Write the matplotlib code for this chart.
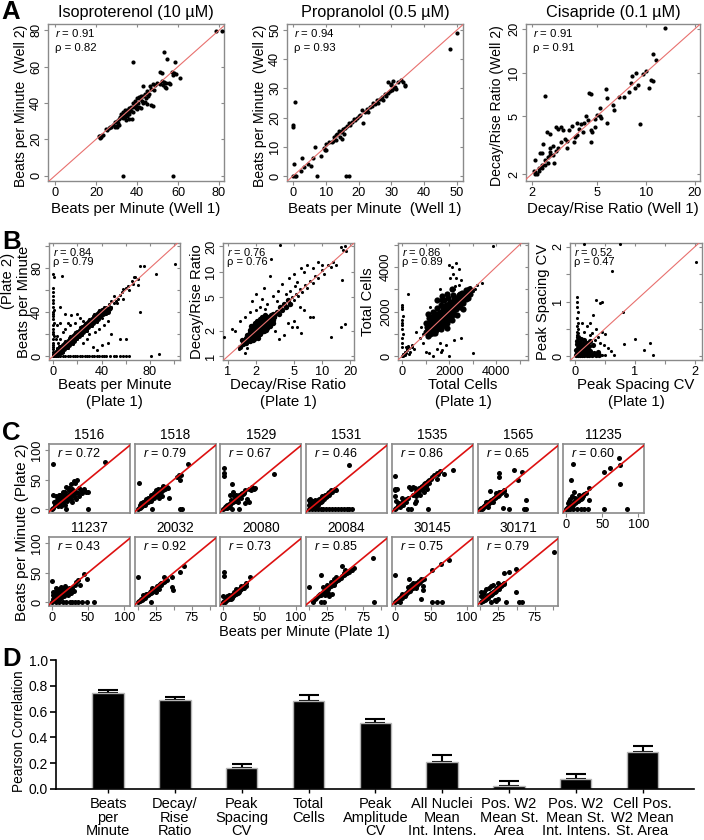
import matplotlib
matplotlib.use('Agg')
import matplotlib.pyplot as plt
from matplotlib import font_manager as fm
from matplotlib.ticker import NullLocator
import numpy as np

# ---------------- DATA ----------------
# Panel A
a_titles = ["Isoproterenol (10 \u00b5M)", "Propranolol (0.5 \u00b5M)", "Cisapride (0.1 \u00b5M)"]
a_r = ["0.91", "0.94", "0.91"]
a_rho = ["0.82", "0.93", "0.91"]
a1_pts = [(78.5,79.5),(81.5,79.5),(38,62.5),(53,68),(54.5,64),(58.4,62.5),(61,54),(33.2,0),(57.7,0),
          (51,57),(52,56.5),(57,57),(58,56.5),(59,56),(57.5,55.5),(52,52),(53,51.5),(54,51),(55.5,51),(56,50.5),
          (53.5,49),(54,48.5),(52.5,50),(50,51),(51,50.5),(49,50),(48,50.5),(46.5,49.5),(47,47.5),(48.5,47),
          (46,45),(45,46.5),(44,45),(43,44),(43,49.5),(42,44),(45.5,44),(44.5,43),(41,43.5),(40,43),(41.5,42),
          (42.5,41),(40.5,40),(43,40),(44,40.5),(45,39.5),(46.7,38.8),(47.8,38.3),(39,41),(38,40),(39.5,39),
          (37,38),(38,37.5),(36,37),(35,36),(36.5,36.5),(34,36),(37,35.5),(35.5,35),(33,35),(36,34),(34.5,34),
          (33,33),(32,34),(35,33),(34,32),(32,32),(33,31.5),(36,31),(37.5,31),(34.5,30.5),(31,31),(30,30),
          (30.5,29),(29,29.5),(31,28),(29.5,27.5),(30,27),(28.5,28),(27,27),(26.5,26),(24.7,25.9),(25.5,25),
          (23,22.5),(22,22),(21.5,22),(22.5,21),(22,20.5),(21.8,21.5),(23.5,22.5),(27.5,26.5),(29,26.5),
          (38,35),(39.5,37),(41,38),(31.5,32.5),(40,36.5),(42,37)]
a2_pts = [(0,17.3),(0,16.7),(0.7,25.3),(0.2,4),(0,0),(0.5,0),(1,0),(2.5,1.8),(2.8,6),(3.3,3),(4.6,4),(5.4,3.4),
          (6.1,6),(6.8,10.1),(7.4,0),(8.7,6.9),(9.5,9.5),(9.8,8.8),(10,9),(10.2,11),(11,11.5),(11.8,11.8),
          (12.2,12),(12.5,13.2),(13,14),(13.5,14.5),(14,15.5),(14.2,13.5),(14.5,15),(15,15.5),(15.3,16),
          (14.8,12.8),(13.2,12.3),(16,16.5),(16.5,17),(17,18),(17.3,17.5),(18,18.5),(18.5,19.5),(19,19),
          (19.5,20),(20,20.5),(20.5,21),(16.2,0),(17,0),(21,22.5),(22,22),(22.5,23),(23,22),(23.5,23.5),
          (21.3,18.3),(24,24),(24.5,25),(25,24.5),(25.5,26),(26,25),(26.5,26.5),(27,27),(27.5,26),(28,28),
          (28.5,27.5),(29,28.5),(29.5,29),(30,31),(30.3,29.5),(30.8,30),(31,30.5),(31.5,29.8),(30.5,32.5),
          (32,32),(33,33),(33.5,32),(34,31),(34,30.7),(29,32.3),(29.8,31.5),(15.7,14.3),(47.9,43.4),(50,49)]
a3_pts = [(13.1,20.3),(11.1,13.5),(11.5,12.2),(10,10.2),(9.6,9.8),(8.7,10),(8.2,9.4),(8.1,8.5),(8.6,7.8),
          (9.0,8.2),(10.8,8.9),(11.0,8.8),(10.5,7.8),(9.2,4.4),(7.9,7.4),(7.3,6.8),(6.8,6.8),(5.7,7.7),
          (5.8,6.7),(6.3,6.0),(6.4,5.5),(5.8,4.5),(5.2,5.7),(5.2,5.0),(5.0,5.1),(5.3,4.9),(4.9,4.8),(4.5,7.2),
          (4.6,7.1),(4.7,3.9),(4.6,4.0),(4.9,4.2),(4.6,3.3),(4.3,5.0),(4.2,4.5),(4.0,4.4),(4.1,3.9),(3.8,3.7),
          (3.9,4.1),(3.7,3.6),(3.5,4.3),(3.4,4.0),(3.3,3.4),(3.2,3.5),(3.0,3.3),(3.0,4.2),(2.8,4.2),(2.9,3.0),
          (2.8,2.9),(2.7,3.1),(2.6,3.0),(2.6,2.7),(2.5,2.6),(2.5,2.4),(2.4,2.5),(2.4,2.3),(2.3,2.3),(2.3,2.2),
          (2.2,2.2),(2.2,2.1),(2.1,2.05),(2.1,2.0),(2.05,2.1),(2.15,2.0),(2.4,6.9),(2.47,3.9),(2.6,3.8),
          (2.6,2.85),(2.7,2.7),(2.25,2.8),(2.3,2.8),(2.1,2.5),(2.35,3.2),(2.9,4.1),(3.1,4.0),(3.6,3.3),
          (4.4,4.7),(3.8,4.5),(2.75,2.4),(3.3,3.0)]

# Panel B (dense cores and sparse scatter)
b_r = ["0.84", "0.76", "0.86", "0.52"]
b_rho = ["0.79", "0.76", "0.89", "0.47"]
b_labels = ["Beats per Minute", "Decay/Rise Ratio", "Total Cells", "Peak Spacing CV"]
b1_core = [(1,0.5),(1.5,2),(2,1),(2.5,3),(3,2),(3,4),(4,3),(4.5,5),(5,4),(5,6),(6,5),(6.5,7),(7,6),(7,8),(8,7),
           (8.5,9),(9,8),(9,10),(10,9),(10,11),(11,10),(11.5,12),(12,11),(12,13),(13,12),(13.5,14),(14,13),
           (14,15),(15,14),(15.5,16),(16,15),(16,17),(17,16),(17.5,18),(18,17),(18,19),(19,18),(19.5,20),
           (20,19),(20,21),(21,20),(21.5,22),(22,21),(22,23),(23,22),(23.5,24),(24,23),(24,25),(25,24),
           (25.5,26),(26,25),(26,27),(27,26),(27.5,28),(28,27),(28,29),(29,28),(29.5,30),(30,29),(30,31),
           (31,30),(31.5,32),(32,31),(32,33),(33,32),(33.5,34),(34,33),(34,35),(35,34),(35.5,36),(36,35),
           (36,37),(37,36),(37.5,38),(38,37),(38,39),(39,38),(39.5,40),(40,39),(40,41),(41,40),(41.5,42),
           (42,40),(43,41),(44,42),(45,40),(46,43),(47,44),
           (5,2),(7,4),(9,6),(11,8),(13,10),(15,12),(17,14),(19,16),(21,18),(23,20),(25,22),(27,24),(29,26),
           (31,28),(33,30),(35,32),(37,34),(39,36),(41,38),(43,39),(2,4),(4,6),(6,8),(8,10),(10,12),(12,14),
           (14,16),(16,18),(18,20),(20,22),(22,24),(24,26),(26,28),(28,30),(30,32),(32,34),(34,36),(36,38),
           (38,40),(40,42),(42,43),(44,44)]
b1_scatter = [(3,7),(5,9),(8,4),(10,14),(12,7),(14,18),(16,11),(18,22),(20,15),(22,26),(24,19),(26,30),(28,23),
              (30,34),(32,27),(34,38),(36,31),(38,42),(40,35),(42,45),(44,38),(46,47),(48,45),(50,48),(52,50),
              (54,52),(55,56),(57,58),(58,61),(60,62),(62,64),(63,60),(65,68),(66,66),(68,72),(70,70),(72,82),
              (75,82),(70,65),(72,40),(85,75),(101,84),(67,72),(58,52),(50,55),(48,50),(53,48),(45,32),(42,28),
              (38,25),(35,22),(30,20),(28,15),(25,12),(48,20),(55,15),(60,15),(40,10),(36,5),(33,8),(45,12),
              (20,38),(15,37),(10,38),(6,45),(7,73),(3,28),(6,30),(8,22),(10,25),(12,30),(14,28),(18,30),(22,35),
              (25,32),(2,15),(3,18),(4,12),(6,15),
              (0,75),(0.5,72),(0,62),(0,58),(0,55),(0,51),(0,48),(0,45),(0.5,42),(0,40),(0,38),(0,36),(0,34),
              (0.5,30),(0,28),(0,25),(0,22),(0,20),(0.5,18),(0,15),(0,12),(0,10),(0,8),(0,6),(0,4),(0,2),(0,0),
              (2,0),(4,0),(6,0),(8,0),(10,0),(12,0),(14,0),(16,0),(18,0),(20,0),(22,0),(24,0),(26,0),(28,0),
              (30,0),(32,0),(34,0),(36,0),(38,0),(40,0),(42,0),(44,0),(47,0),(50,0),(52,0),(55,0),(58,0),(60,0),
              (81,0),(88,2),(63,0)]
b2_core = [(1.5,1.5),(1.6,1.5),(1.55,1.65),(1.65,1.6),(1.7,1.75),(1.75,1.6),(1.8,1.8),(1.8,1.95),(1.85,1.7),
           (1.9,1.9),(1.9,2.1),(1.95,1.8),(2.0,2.0),(2.0,2.2),(2.05,1.9),(2.1,2.1),(2.1,2.35),(2.15,1.95),
           (2.2,2.2),(2.2,2.45),(2.25,2.05),(2.3,2.3),(2.3,2.55),(2.35,2.15),(2.4,2.4),(2.4,2.7),(2.45,2.2),
           (2.5,2.5),(2.5,2.8),(2.55,2.3),(2.6,2.6),(2.65,2.4),(2.7,2.75),(2.7,2.95),(2.75,2.5),(2.8,2.8),
           (2.85,3.1),(2.9,2.7),(2.95,3.0),(3.0,3.2),(3.05,2.8),(3.1,3.1),(1.7,2.05),(1.8,2.25),(1.95,2.45),
           (2.05,2.6),(2.2,2.75),(1.9,1.6),(2.0,1.7),(2.2,1.85),(2.4,2.0),(2.6,2.15),(1.6,1.8),(1.45,1.4),
           (1.4,1.55),(1.35,1.3),(2.8,2.3),(3.0,2.5),(2.5,3.1),(2.3,2.9),(1.75,2.3),(2.1,1.65),
           (1.55,1.45),(1.65,1.7),(1.7,1.5),(1.75,1.85),(1.85,2.0),(1.85,1.55),(1.95,2.3),(2.0,1.85),(2.05,2.05),
           (2.1,1.8),(2.15,2.25),(2.15,2.5),(2.25,2.3),(2.25,1.95),(2.3,2.05),(2.35,2.45),(2.35,2.7),(2.45,2.55),
           (2.45,2.35),(2.5,2.15),(2.55,2.65),(2.6,2.9),(2.65,2.55),(2.7,2.25),(2.75,2.85),(2.85,2.6),(2.9,2.95),
           (3.0,2.7),(3.1,2.9),(3.2,3.2),(1.9,2.0),(2.0,2.4),(1.7,1.95),(2.55,2.05),(2.8,2.45),
           (3.3,3.3),(3.5,3.2),(3.6,3.8),(3.8,3.5),(4.0,4.2),(4.2,3.8),(4.4,4.6),(4.6,4.2)]
b2_scatter = [(4.8,5.0),(5.0,4.6),(5.3,5.5),(5.6,5.2),(5.9,6.2),(6.2,5.8),(6.6,6.9),(7.0,6.5),(7.5,7.8),(8.0,7.4),
              (8.5,8.9),(9.2,8.5),(10,10.5),(10.5,9.5),(11.5,12),(12.5,11.5),(13,13),(14,12),(16,19.5),(17,18),
              (17.5,20.5),(18,17.5),(3.6,20.7),(2.85,14.4),(16.3,8),(12.5,1.7),(16,2.2),(17.5,2.4),(7.5,2.9),
              (8.0,2.9),(2.8,9),(2.4,6.5),(2.0,5.5),(1.8,4.5),(2.3,4.8),(2.6,4.2),(3.0,5.2),(3.4,6.0),(3.8,7.2),
              (4.5,8.5),(5.0,9.5),(5.5,7.5),(6.0,11),(6.5,10),(7.0,12),(8.0,11),(9,13),(10,12),(4.4,2.5),(5,2.6),
              (5.5,2.2),(6,1.9),(4,1.8),(3.5,1.6),(4.8,2.2),(3.2,2.0),(6.5,3.5),(5.8,3.8),(0.9,1.7),(1.1,2.1),
              (1.2,2.0),(1.3,1.2),(1.5,1.1),(1.6,1.25),(1.35,2.6),(1.5,2.9),(1.7,3.3),(2.0,3.5),(2.2,3.8),
              (2.5,3.6),(3.3,4.5),(4.1,5.5),(4.6,5.9),(5.2,6.8)]
b3_core = [(1000,1100),(1050,1300),(1100,900),(1100,1200),(1150,1500),(1200,1000),(1200,1350),(1250,1150),
           (1300,1450),(1300,1650),(1350,1250),(1400,1400),(1400,1800),(1450,1150),(1450,1600),(1500,1350),
           (1500,1750),(1550,1500),(1550,1950),(1600,1300),(1600,1650),(1650,1850),(1700,1550),(1700,2000),
           (1750,1400),(1750,1750),(1800,1950),(1800,2200),(1850,1650),(1850,1850),(1900,2050),(1900,1500),
           (1950,1900),(2000,2100),(2000,2350),(2050,1800),(2100,2000),(2100,2250),(2150,2450),(2200,1900),
           (2200,2200),(2250,2400),(2300,2100),(2300,2600),(2350,2300),(2400,2500),(2400,2750),(2450,2200),
           (2500,2450),(2500,2650),(2550,2850),(2600,2400),(2600,2600),(2650,2800),(2700,2550),(2700,2950),
           (2750,2700),(2800,2900),(2800,2600),(2850,3000),(2900,2800),(2950,2950),(1250,1750),(1350,1950),
           (1500,2150),(1650,2300),(1800,2500),(1950,2600),(2150,2750),(1400,1050),(1650,1200),(1900,1250),
           (2100,1600),(2350,1850),(2600,2100),(1150,1700),(1300,2000),(1500,2500),(1700,2700),
           (1700,2500),(1900,2800),(2100,3000),(1000,1500),(1100,1900),
           (1100,1050),(1150,1250),(1200,1500),(1250,1350),(1300,1200),(1350,1550),(1400,1650),(1450,1400),
           (1450,1850),(1500,1550),(1550,1700),(1550,1250),(1600,1850),(1600,1500),(1650,1650),(1650,2000),
           (1700,1800),(1700,1350),(1750,1950),(1750,2150),(1800,1700),(1800,1500),(1850,2050),(1850,2300),
           (1900,1850),(1900,2200),(1950,2100),(1950,1650),(2000,1950),(2000,2250),(2050,2150),(2050,2450),
           (2100,1850),(2150,2100),(2150,2300),(2200,2350),(2200,2550),(2250,2200),(2300,2350),(2300,2450),
           (2350,2550),(2400,2350),(2450,2600),(2450,2800),(2500,2550),(2550,2650),(2600,2750),(2650,2600),
           (2700,2800),(2750,2900),(2800,2750),(2850,2850),(1300,1050),(1250,1550),(2050,1650)]
b3_scatter = [(1600,3000),(2250,3150),(2400,3200),
              (3850,4950),(2300,4200),(2000,4100),(2100,4000),(2150,3700),(2050,3500),(2300,3500),(2400,3900),
              (2500,3400),(3400,3300),(250,2800),(3000,150),(1500,300),(1300,0),(1150,150),(2000,0),(1650,200),
              (1700,250),(1850,500),(2200,700),(2500,800),(1000,200),(900,600),(750,800),(600,1100),(500,300),
              (400,500),(350,200),(300,100),(200,300),(150,150),(100,50),(50,100),(250,450),(200,250),(300,350),
              (400,400),(150,400),(0,0),(50,0),(100,200),(0,2300),(0,2200),(0,2100),(50,1800),(0,1600),(0,1500),
              (0,1400),(0,1200),(50,1000),(0,800),(0,600),(0,400),(1600,600),(2900,3100),(3000,2900),(3100,3000),
              (3200,3200),(2200,3000),(1200,2200),(800,1300),(900,1000)]
b4_core = [(0.02,0.02),(0.04,0.05),(0.06,0.03),(0.08,0.08),(0.1,0.05),(0.12,0.1),(0.14,0.04),(0.16,0.12),
           (0.18,0.07),(0.2,0.15),(0.22,0.06),(0.24,0.18),(0.26,0.1),(0.28,0.03),(0.3,0.2),(0.05,0.15),
           (0.07,0.2),(0.09,0.25),(0.11,0.18),(0.13,0.22),(0.15,0.3),(0.03,0.28),(0.05,0.35),(0.1,0.32),
           (0.2,0.25),(0.25,0.28),(0.02,0.12),(0.04,0.22),(0.06,0.1),(0.08,0.16),(0.1,0.12),(0.12,0.02),
           (0.14,0.14),(0.16,0.02),(0.18,0.2),(0.2,0.02),(0.22,0.12),(0.24,0.02),(0.32,0.05),(0.35,0.02),
           (0.38,0.08),(0.4,0.02),(0.03,0.06),(0.07,0.04),(0.09,0.02),(0.13,0.07),(0.17,0.16),(0.19,0.1)]
b4_scatter = [(0.45,0.03),(0.5,0.02),
              (0.04,1.08),(0.03,1.0),(0.04,0.9),(0.05,0.8),(0.03,0.7),(0.05,0.6),(0.04,0.55),(0.06,0.5),
              (0.04,0.45),(0.06,0.42),(0.04,0.38),
              (0.35,1.03),(0.42,0.97),(0.45,1.0),(0.62,1.56),(0.8,0.8),(0.15,2.06),(0.75,2.06),(2.02,1.73),
              (1.0,0.32),(1.3,0.02),(1.15,0.12),(1.25,0.25),(0.82,0.22),(0.66,0.02),(0.3,0.75),(0.25,0.6),
              (0.35,0.5),(0.45,0.45),(0.5,0.4),(0.38,0.35),(0.28,0.42),(0.2,0.55),(0.12,0.6),(0.55,0.15),
              (0.6,0.1),(0.42,0.25),(0.48,0.2),(0.33,0.3),(0.26,0.38),(0.15,0.45)]

# Panel C
c_names = ["1516", "1518", "1529", "1531", "1535", "1565", "11235",
           "11237", "20032", "20080", "20084", "30145", "30171"]
c_r = ["0.72", "0.79", "0.67", "0.46", "0.86", "0.65", "0.60",
       "0.43", "0.92", "0.73", "0.85", "0.75", "0.79"]
c_1516 = [(1,76),(74,80),(50,29),(50,0),(0,0),(2,3),(3,12),(4,8),(5,15),(6,22),(2,24),(8,5),(8,18),(10,10),
          (10,24),(12,13),(12,20),(13,5),(14,16),(15,25),(16,12),(17,20),(18,30),(18,8),(19,18),(20,22),(20,38),
          (21,15),(22,25),(23,32),(24,20),(25,28),(26,18),(27,24),(28,35),(28,12),(29,30),(30,22),(30,48),(31,26),
          (32,45),(33,18),(34,30),(35,50),(36,28),(37,36),(38,22),(40,33),(42,28),(44,35),(47,30),(24,36),(26,42),
          (20,0),(15,30),(11,24)]
c_1518 = [(2,45),(0,0),(2,2),(4,3),(5,10),(6,5),(8,7),(9,9),(10,8),(11,12),(12,10),(13,14),(14,12),(15,16),
          (16,14),(17,18),(18,15),(19,20),(20,18),(21,22),(22,20),(23,25),(24,22),(25,27),(26,24),(27,28),(28,26),
          (29,30),(30,28),(31,33),(32,30),(33,35),(35,32),(36,37),(38,35),(40,38),(42,36),(30,20),(34,22),(44,20),
          (20,0),(58,0),(62,0),(55,55),(57,58),(60,58),(58,50),(70,76),(18,25),(12,18),(25,32),(28,35),(22,28),
          (15,20),(10,15),(8,12),(35,40),(5,4),(3,8)]
c_1529 = [(1,70),(1,62),(1,57),(12,42),(14,30),(9,25),(70,59),(0,0),(2,2),(3,4),(4,5),(5,3),(6,7),(7,6),(8,9),
          (9,8),(10,11),(11,10),(12,13),(13,12),(14,15),(15,14),(16,17),(17,15),(18,19),(19,18),(20,21),(21,20),
          (22,24),(23,22),(24,26),(25,24),(26,28),(27,26),(28,30),(29,28),(30,33),(25,20),(18,25),(20,12),(35,35),
          (38,33),(40,38),(42,35),(44,36),(36,12),(30,10),(12,0),(22,0),(33,18),(15,22),(10,16),(5,8),(8,4)]
c_1531 = [(55,75),(0,0),(1,3),(0,8),(1,12),(0,16),(2,18),(3,6),(4,10),(5,14),(5,4),(6,8),(7,12),(8,6),(8,16),
          (9,10),(10,14),(10,4),(11,12),(12,8),(12,16),(13,14),(14,10),(14,18),(15,15),(16,12),(16,20),(17,18),
          (18,15),(18,22),(19,19),(20,20),(21,17),(22,24),(23,21),(24,25),(25,22),(26,27),(27,25),(28,30),(29,27),
          (30,32),(32,29),(34,33),(36,35),(38,32),(4,0),(8,0),(12,0),(16,0),(20,0),(24,0),(28,0),(32,0),(36,0),
          (40,0),(44,0),(48,0),(52,0),(56,0),(60,0)]
c_1535 = [(1,57),(0,35),(1,33),(3,34),(0,22),(2,15),(4,8),(6,10),(0,0),(2,3),(8,4),(10,20),(12,15),(15,12),
          (18,20),(19,0),(22,0),(46,0),(28,10),(30,15),(25,25),(20,38),(25,38),(22,35),(28,36),(30,30),(32,28),
          (33,33),(34,36),(35,32),(36,38),(37,34),(38,40),(39,36),(40,42),(41,38),(42,44),(43,40),(44,46),(45,42),
          (46,48),(47,45),(48,50),(50,52),(52,55),(55,58),(58,62),(60,60),(58,52),(62,65),(68,60),(45,35),(40,30),
          (35,25),(30,22),(15,18),(12,8),(80,66)]
c_1565 = [(0,0),(1,2),(2,1),(3,4),(4,3),(5,6),(6,5),(7,8),(8,7),(9,10),(10,9),(11,12),(12,11),(13,14),(14,13),
          (15,16),(16,15),(17,18),(18,17),(19,20),(20,19),(21,22),(22,21),(23,24),(24,23),(25,26),(26,25),(27,28),
          (28,27),(29,30),(30,29),(32,31),(33,33),(26,61),(26,54),(47,66),(58,63),(52,50),(63,16),(60,0),(63,0),
          (31,2),(40,0),(13,31),(26,30),(10,4),(18,12),(22,27),(8,13),(35,25)]
c_11235 = [(9,77),(7,50),(11,29),(32,36),(52,63),(61,69),(73,86),(75,75),(74,43),(53,1),(84,0),(30,0),(31,16),
           (0,0),(1,2),(2,1),(3,4),(4,2),(5,6),(6,4),(7,8),(8,6),(9,10),(10,8),(11,12),(12,10),(13,14),(14,12),
           (15,16),(16,14),(17,18),(18,16),(19,20),(20,18),(21,22),(22,20),(23,24),(24,22),(25,26),(27,27),(2,10),
           (4,14),(6,18),(5,0),(10,0),(15,0),(20,0),(25,0),(8,22),(12,20),(18,25)]
c_11237 = [(0,36),(0,0),(1,5),(1,12),(2,18),(3,8),(4,15),(5,3),(6,20),(7,10),(8,16),(9,5),(10,22),(11,12),(12,18),
           (13,8),(14,20),(15,14),(16,24),(17,10),(18,18),(19,22),(20,15),(21,20),(22,12),(23,25),(24,18),(25,22),
           (26,16),(28,24),(30,20),(32,30),(34,35),(36,37),(39,29),(44,47),(49,40),(5,0),(10,0),(15,0),(20,0),
           (25,0),(28,0),(32,0),(36,0),(42,0),(48,0),(58,0),(12,26),(18,28),(6,24)]
c_20032 = [(0,42),(0,0),(2,2),(4,3),(5,5),(6,4),(7,7),(8,6),(9,9),(10,8),(11,11),(12,10),(13,13),(14,12),(15,15),
           (16,14),(17,17),(18,16),(19,19),(20,18),(21,21),(22,20),(23,23),(24,22),(25,25),(26,24),(27,27),(28,26),
           (29,29),(30,28),(31,31),(32,30),(33,33),(34,32),(36,35),(38,36),(40,38),(36,42),(48,43),(58,51),(64,61),
           (47,26),(49,21),(18,0),(12,14),(20,24),(25,18),(8,12),(30,22)]
c_20080 = [(1.5,51),(1.5,44),(37,42),(0,10),(0,0),(1,2),(2,1),(3,3),(4,5),(5,4),(6,6),(7,7),(8,6),(9,9),(10,10),
           (11,9),(12,12),(13,11),(14,14),(15,13),(16,16),(17,15),(18,18),(19,17),(20,20),(21,19),(22,22),(23,21),
           (24,24),(25,23),(26,26),(27,25),(28,28),(29,27),(30,30),(31,28),(32,32),(8,12),(12,8),(15,18),(20,16),
           (24,28),(28,24),(5,10),(10,5),(18,22),(22,18)]
c_20084 = [(0.6,26),(17,46),(38,42),(45,62),(50,55),(48,50),(88,75),(90,1),(17,0),(21,0),(28,10),(32,14),(5,0),
           (6,3),(8,5),(10,8),(12,10),(14,12),(15,14),(16,13),(18,16),(20,18),(22,20),(24,22),(25,24),(26,23),
           (28,26),(30,28),(32,30),(34,31),(36,34),(38,36),(40,38),(42,40),(44,41),(46,44),(48,46),(50,48),(52,50),
           (55,52),(58,55),(60,54),(62,58),(20,26),(25,30),(30,34),(35,40),(22,12),(26,16),(35,30)]
c_30145 = [(0.6,46),(75.6,72),(64,65),(51,54),(41,39),(39,27),(39,21),(36,5),(52,0),(59,0),(66,0),(20,39),(7.6,1),
           (12,13),(0,0),(2,2),(3,4),(5,3),(6,7),(8,6),(9,10),(10,8),(12,12),(14,11),(15,16),(16,14),(18,19),
           (19,17),(20,22),(21,20),(22,24),(23,22),(24,26),(25,25),(26,28),(27,26),(28,30),(29,28),(30,32),(31,30),
           (32,34),(33,33),(34,36),(35,35),(36,40),(38,38),(25,32),(22,30),(18,26),(30,25),(10,15)]
c_30171 = [(102,85),(33,50),(40,51),(49,56),(49,18),(24,32),(26,23),(36,0),(54,0),(58,0),(0.6,18),(0.6,10),(1,0),
           (2,3),(4,2),(5,6),(6,4),(7,8),(8,6),(9,10),(10,8),(11,12),(12,10),(13,14),(14,12),(15,16),(16,14),
           (17,18),(18,16),(19,20),(20,18),(21,22),(22,20),(23,24),(24,22),(25,26),(26,25),(27,28),(28,27),(29,30),
           (30,29),(31,31),(32,32),(33,31),(3,14),(5,18),(8,22),(12,25),(15,28),(18,30),(20,4),(22,2),(25,6),(15,0)]
c_data = [c_1516, c_1518, c_1529, c_1531, c_1535, c_1565, c_11235,
          c_11237, c_20032, c_20080, c_20084, c_30145, c_30171]

# Panel D
d_categories = ["Beats\nper\nMinute", "Decay/\nRise\nRatio", "Peak\nSpacing\nCV", "Total\nCells",
                "Peak\nAmplitude\nCV", "All Nuclei\nMean\nInt. Intens.", "Pos. W2\nMean St.\nArea",
                "Pos. W2\nMean St.\nInt. Intens.", "Cell Pos.\nW2 Mean\nSt. Area"]
d_values = [0.741, 0.689, 0.160, 0.681, 0.508, 0.212, 0.021, 0.075, 0.288]
d_errors = [0.023, 0.026, 0.035, 0.044, 0.033, 0.050, 0.039, 0.042, 0.049]

# ---------------- STYLE / LAYOUT ----------------
W, H = 704, 840
REG = ['Liberation Sans', 'DejaVu Sans']
_names = {f.name for f in fm.fontManager.ttflist}
HAS_NARROW = 'Liberation Sans Narrow' in _names
NAR = (['Liberation Sans Narrow'] + REG) if HAS_NARROW else REG
NSCALE = (1 / 0.82) if HAS_NARROW else 1.0
plt.rcParams['font.family'] = REG
plt.rcParams['mathtext.fontset'] = 'custom'
plt.rcParams['mathtext.it'] = NAR[0] + ':italic'
plt.rcParams['mathtext.rm'] = NAR[0]

fig = plt.figure(figsize=(W / 100, H / 100), dpi=100)


def box(x0, y0, x1, y1):
    return [x0 / W, 1 - y1 / H, (x1 - x0) / W, (y1 - y0) / H]


def ftext(x, y, s, size, rot=0, **kw):
    fig.text(x / W, 1 - y / H, s, fontsize=size * NSCALE, rotation=rot, family=NAR,
             ha=kw.pop('ha', 'center'), va=kw.pop('va', 'center'), **kw)


def atext(ax, x, y, s, size):
    ax.text(x, y, s, transform=ax.transAxes, fontsize=size * NSCALE, family=NAR, va='center', ha='left')


GRAY = '#8a8a8a'
RED_LIGHT = '#e8706e'


def rstyle(ax, xt, xl, yt, yl, log=False, size=9):
    if log:
        ax.set_xscale('log')
        ax.set_yscale('log')
    ax.set_xticks(xt, xl)
    ax.set_yticks(yt, yl)
    ax.xaxis.set_minor_locator(NullLocator())
    ax.yaxis.set_minor_locator(NullLocator())
    for s in ax.spines.values():
        s.set_color(GRAY)
        s.set_linewidth(1.0)
    ax.tick_params(which='both', colors=GRAY, labelcolor='black', length=3.0, width=0.8,
                   labelsize=size, pad=1.2, direction='out')
    plt.setp(ax.get_yticklabels(), rotation=90, va='center')
    ax2 = ax.secondary_xaxis('top')
    ax2.set_xticks(xt, [''] * len(xt))
    ax2.tick_params(direction='in', length=2.5, colors=GRAY, width=0.8)
    ax2.xaxis.set_minor_locator(NullLocator())
    ax2.spines['top'].set_visible(False)
    ay2 = ax.secondary_yaxis('right')
    ay2.set_yticks(yt, [''] * len(yt))
    ay2.tick_params(direction='in', length=2.5, colors=GRAY, width=0.8)
    ay2.yaxis.set_minor_locator(NullLocator())
    ay2.spines['right'].set_visible(False)


def scat(ax, pts, s, color='black'):
    xs = [p[0] for p in pts]
    ys = [p[1] for p in pts]
    ax.scatter(xs, ys, s=s, color=color, linewidths=0, zorder=3, clip_on=True)


# ---------------- PANEL A ----------------
a_boxes = [(48, 24, 224, 181), (287, 24, 463, 181), (526, 24, 700, 181)]
a_lims = [((-3.5, 82.5), (-3, 83.5)), ((-1.8, 51.8), (-1.7, 52)), ((1.84, 21.5), (1.79, 21.6))]
a_pts = [a1_pts, a2_pts, a3_pts]
a_xlab = ["Beats per Minute (Well 1)", "Beats per Minute  (Well 1)", "Decay/Rise Ratio (Well 1)"]
a_ylab = ["Beats per Minute  (Well 2)", "Beats per Minute  (Well 2)", "Decay/Rise Ratio (Well 2)"]
a_ylab_x = [21, 260, 497]
a_ticks = [([0, 20, 40, 60, 80], ['0', '20', '40', '60', '80']),
           ([0, 10, 20, 30, 40, 50], ['0', '10', '20', '30', '40', '50']),
           ([2, 5, 10, 20], ['2', '5', '10', '20'])]
for i in range(3):
    ax = fig.add_axes(box(*a_boxes[i]))
    rstyle(ax, a_ticks[i][0], a_ticks[i][1], a_ticks[i][0], a_ticks[i][1], log=(i == 2), size=9.2)
    ax.set_xlim(*a_lims[i][0])
    ax.set_ylim(*a_lims[i][1])
    scat(ax, a_pts[i], 9)
    ax.axline((2, 2), (10, 10), color=RED_LIGHT, lw=0.8, zorder=4)
    atext(ax, 0.04, 0.94, r'$r$ = ' + a_r[i], 8.2)
    atext(ax, 0.04, 0.845, '\u03c1 = ' + a_rho[i], 8.2)
    x0, y0, x1, y1 = a_boxes[i]
    ftext((x0 + x1) / 2, 13, a_titles[i], 11.7)
    ftext((x0 + x1) / 2, 209, a_xlab[i], 10.8)
    ftext(a_ylab_x[i], (y0 + y1) / 2 + 3, a_ylab[i], 10.1, rot=90)

# ---------------- PANEL B ----------------
b_boxes = [(49, 243, 180, 360), (223, 243, 354, 360), (398, 243, 528, 360), (570, 243, 702, 360)]
b_lims = [((-3.5, 105), (-3.7, 103)), ((0.885, 22), (0.9, 22)), ((-180, 5360), (-180, 5080)),
          ((-0.08, 2.12), (-0.07, 2.07))]
b_cores = [b1_core, b2_core, b3_core, b4_core]
b_scatters = [b1_scatter, b2_scatter, b3_scatter, b4_scatter]
b_core_size = [13, 15, 20, 14]
b_ticks = [([0, 20, 40, 60, 80, 100], ['0', '', '40', '', '80', '']),
           ([1, 2, 5, 10, 20], ['1', '2', '5', '10', '20']),
           ([0, 1000, 2000, 3000, 4000, 5000], ['0', '', '2000', '', '4000', '']),
           ([0, 0.5, 1, 1.5, 2], ['0', '', '1', '', '2'])]
b_ylab_x = [24, 197, 368, 543]
for i in range(4):
    ax = fig.add_axes(box(*b_boxes[i]))
    rstyle(ax, b_ticks[i][0], b_ticks[i][1], b_ticks[i][0], b_ticks[i][1], log=(i == 1), size=9.2)
    ax.set_xlim(*b_lims[i][0])
    ax.set_ylim(*b_lims[i][1])
    scat(ax, b_cores[i], b_core_size[i])
    scat(ax, b_scatters[i], 5)
    ax.axline((1, 1), (2, 2), color=RED_LIGHT, lw=0.8, zorder=4)
    atext(ax, 0.03, 0.925, r'$r$ = ' + b_r[i], 8.0)
    atext(ax, 0.03, 0.84, '\u03c1 = ' + b_rho[i], 8.0)
    x0, y0, x1, y1 = b_boxes[i]
    ftext((x0 + x1) / 2, 385, b_labels[i], 10.8)
    ftext((x0 + x1) / 2, 402, "(Plate 1)", 10.8)
    ftext(b_ylab_x[i], 302, b_labels[i], 10.6, rot=90)
ftext(8, 281, "(Plate 2)", 10.6, rot=90)

# ---------------- PANEL C ----------------
c_rows = [(444, 513), (537, 606)]
c_w = 81
c_step = 85.7
for k in range(13):
    row = 0 if k < 7 else 1
    col = k if k < 7 else k - 7
    x0 = 49 + col * c_step
    y0, y1 = c_rows[row]
    ax = fig.add_axes(box(x0, y0, x0 + c_w, y1))
    ax.set_xlim(-4, 108)
    ax.set_ylim(-6, 110)
    for s in ax.spines.values():
        s.set_color(GRAY)
        s.set_linewidth(1.2)
    show_x = (row == 1) or (col == 6)
    if show_x:
        if row == 1 and col in (1, 3, 5):
            ax.set_xticks([0, 25, 50, 75, 100], ['', '25', '', '75', ''])
        else:
            ax.set_xticks([0, 50, 100], ['0', '50', '100'])
    else:
        ax.set_xticks([])
    if col == 0:
        ax.set_yticks([0, 50, 100], ['0', '50', '100'])
    else:
        ax.set_yticks([])
    ax.tick_params(colors=GRAY, labelcolor='black', length=3, width=0.8, labelsize=9.2, pad=1.2)
    plt.setp(ax.get_yticklabels(), rotation=90, va='center')
    scat(ax, c_data[k], 13)
    ax.axline((0, 0), (1, 1), color='#dd1111', lw=1.2, zorder=4)
    atext(ax, 0.1, 0.86, r'$r$ = ' + c_r[k], 9.0)
    ftext(x0 + c_w / 2, y0 - 9, c_names[k], 9.8)
ftext(304, 632, "Beats per Minute (Plate 1)", 10.5)
ftext(22, 532, "Beats per Minute (Plate 2)", 11.0, rot=90)

# ---------------- PANEL D ----------------
axd = fig.add_axes(box(56, 660, 694, 789))
xpos = np.arange(len(d_values))
axd.bar(xpos, d_values, width=0.47, color='black', edgecolor='#b5b5b5', linewidth=1.0, zorder=2)
axd.errorbar(xpos, d_values, yerr=[np.zeros(len(d_values)), d_errors], fmt='none', ecolor='black',
             elinewidth=1.5, capsize=7, capthick=1.5, zorder=1)
axd.set_xlim(-0.78, 8.77)
axd.set_ylim(0, 1.0)
axd.spines['top'].set_visible(False)
axd.spines['right'].set_visible(False)
axd.spines['left'].set_bounds(0, 1.0)
axd.spines['left'].set_linewidth(1.2)
axd.spines['bottom'].set_linewidth(1.2)
axd.set_yticks([0, 0.2, 0.4, 0.6, 0.8, 1.0], ['0.0', '0.2', '0.4', '0.6', '0.8', '1.0'])
axd.set_xticks(xpos, d_categories)
axd.tick_params(axis='y', length=4, width=1.2, labelsize=10, pad=2)
axd.tick_params(axis='x', length=3, width=1.0, pad=3)
for lab in axd.get_xticklabels():
    lab.set_fontsize(10.5 * NSCALE)
    lab.set_family(NAR)
    lab.set_linespacing(0.95)
ftext(19, 731, "Pearson Correlation", 9.8, rot=90)

# ---------------- PANEL LETTERS ----------------
for letter, (lx, ly) in zip("ABCD", [(11, 12), (12, 242), (11, 433), (12, 659)]):
    fig.text(lx / W, 1 - ly / H, letter, fontsize=18.5, fontweight='bold', ha='center', va='center')

fig.savefig('out.png', dpi=100)
